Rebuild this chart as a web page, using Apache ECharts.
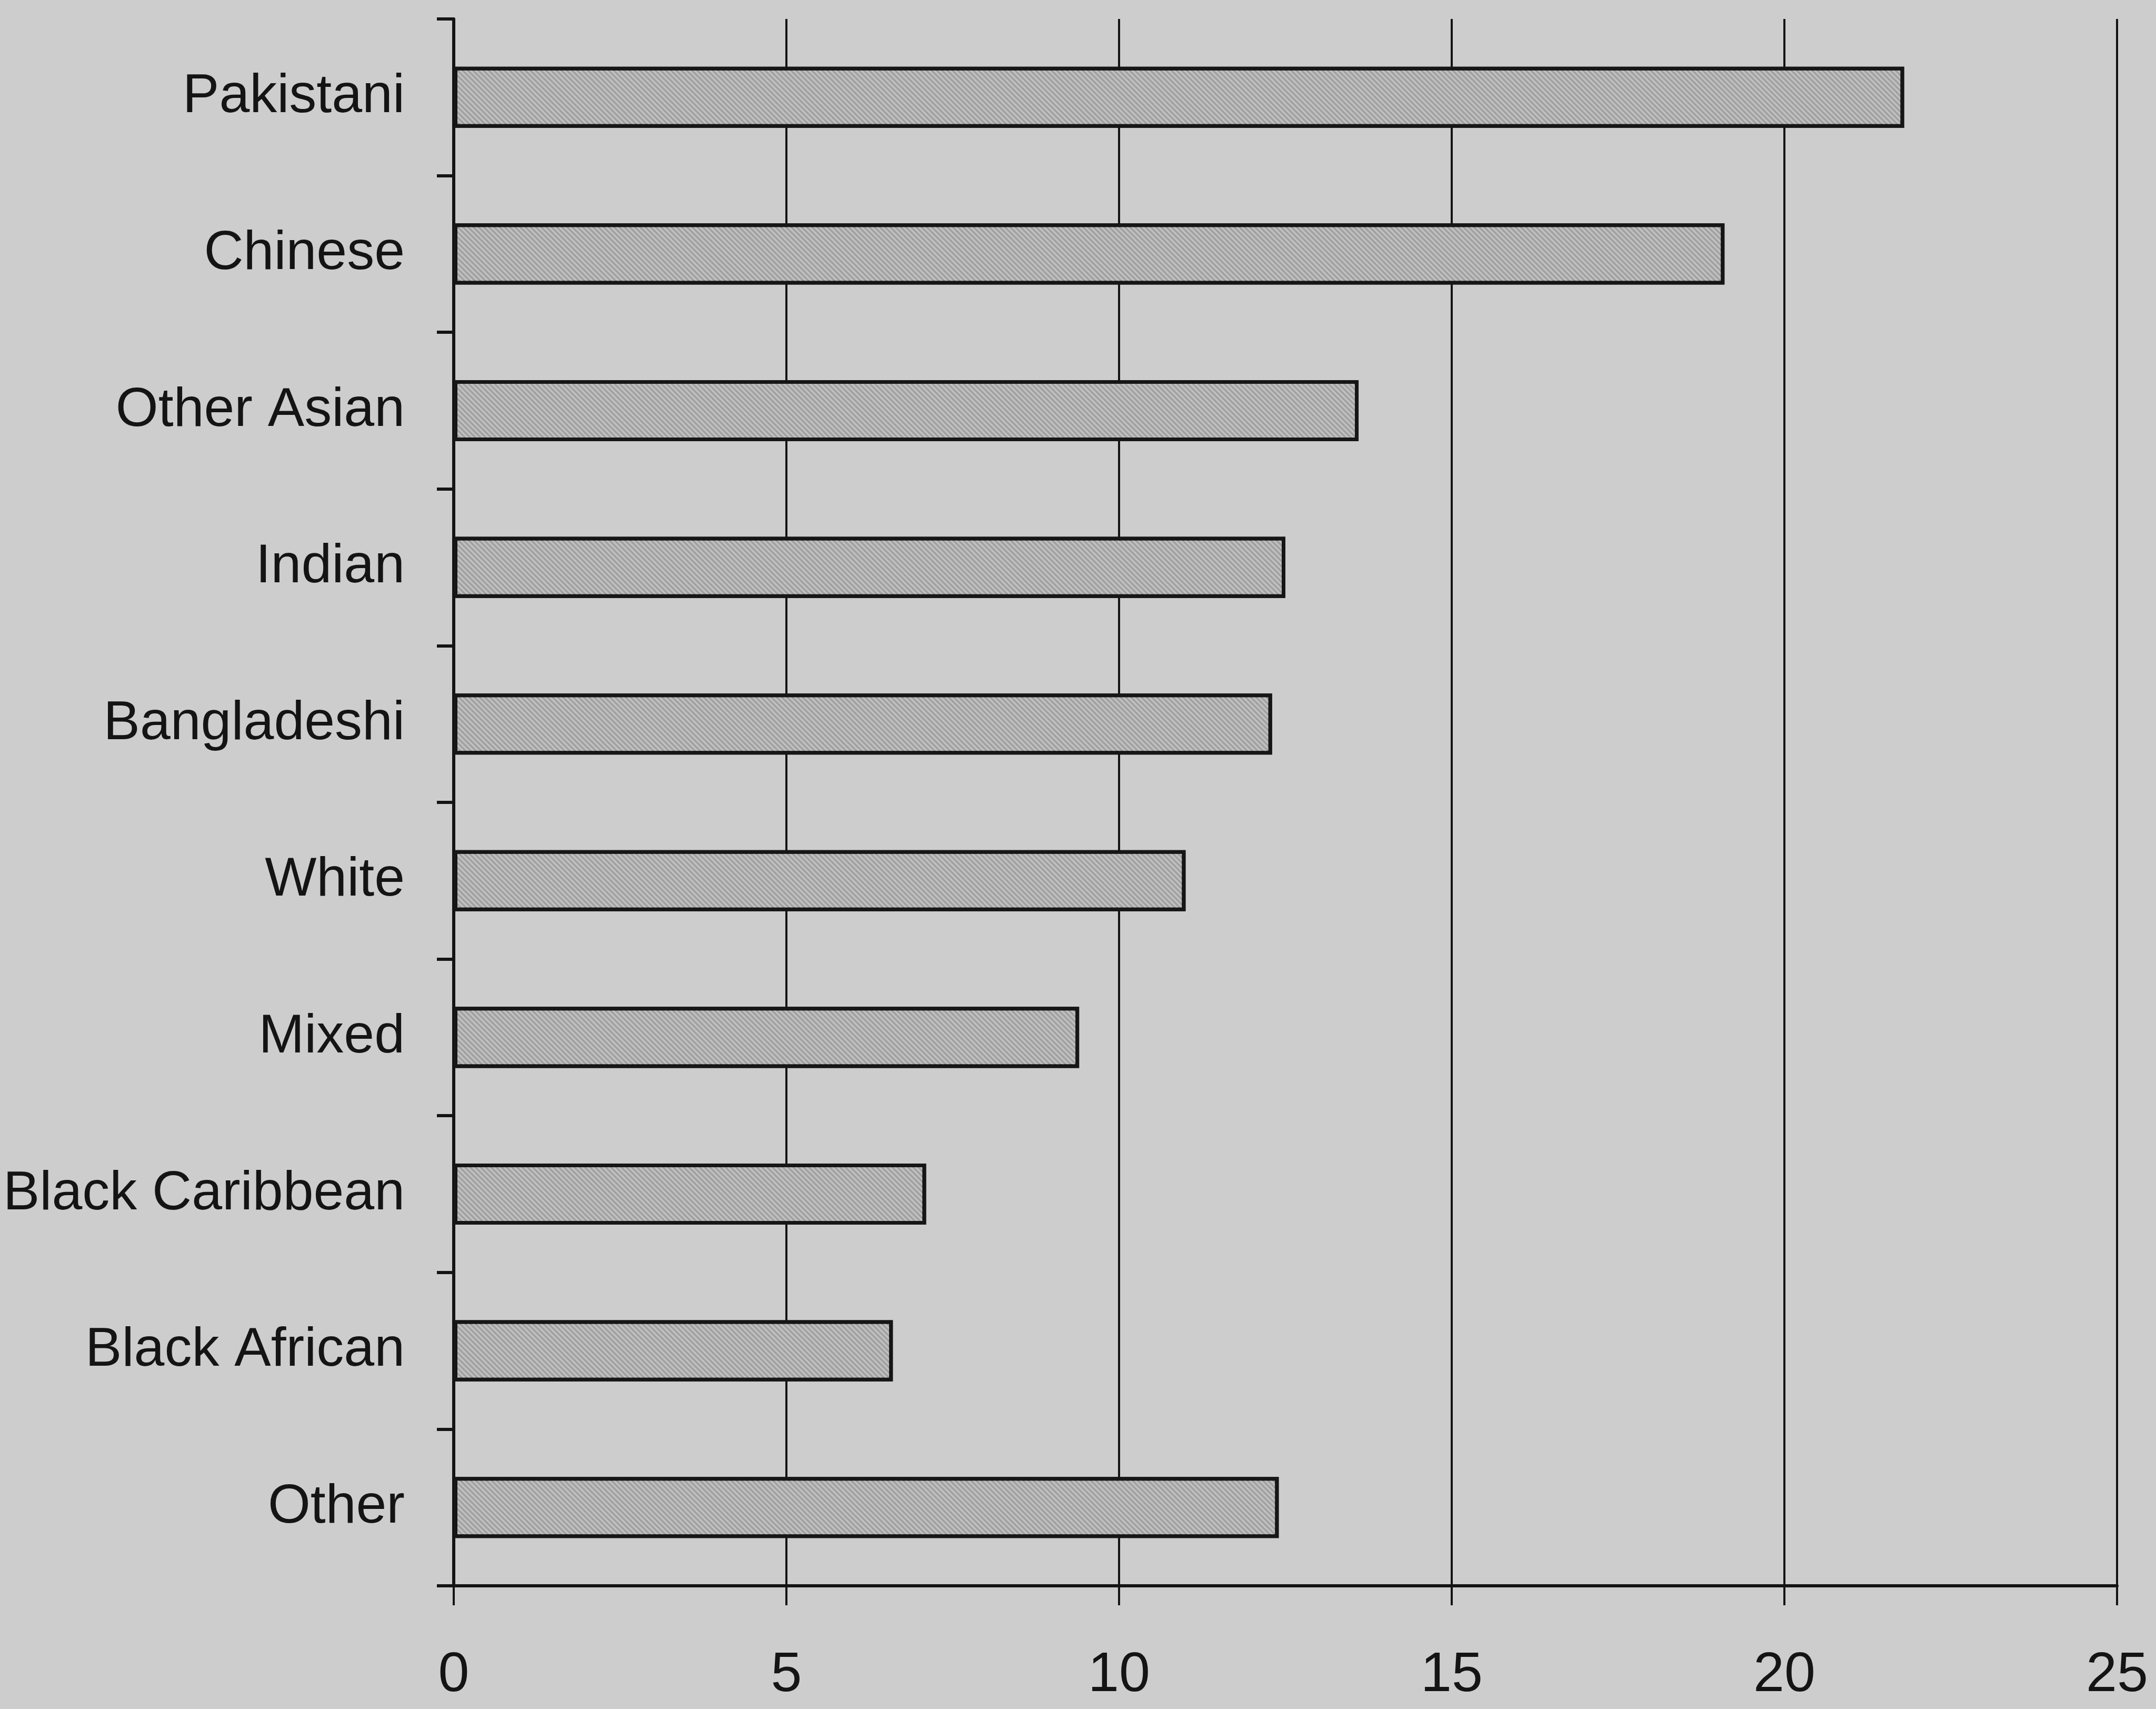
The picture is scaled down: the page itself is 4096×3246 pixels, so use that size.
<!DOCTYPE html>
<html>
<head>
<meta charset="utf-8">
<script src="https://cdn.jsdelivr.net/npm/echarts@6/dist/echarts.min.js"></script>
<style>
  html, body { margin: 0; padding: 0; background: #cdcdcd; }
  #chart { width: 4096px; height: 3246px; }
</style>
</head>
<body>
<div id="chart"></div>
<script>
// categories top to bottom
var groups = ['Pakistani', 'Chinese', 'Other Asian', 'Indian', 'Bangladeshi',
  'White', 'Mixed', 'Black Caribbean', 'Black African', 'Other'];
// values
var rates = [21.8, 19.1, 13.6, 12.5, 12.3, 11.0, 9.4, 7.1, 6.6, 12.4];
var xTicks = [0, 5, 10, 15, 20, 25];

var font = "'Liberation Sans', Arial, sans-serif";

var chart = echarts.init(document.getElementById('chart'));
chart.setOption({
  backgroundColor: '#cdcdcd',
  animation: false,
  aria: { enabled: false },
  grid: { left: 862, right: 74, top: 36, bottom: 234 },
  xAxis: {
    type: 'value',
    min: xTicks[0],
    max: xTicks[xTicks.length - 1],
    interval: 5,
    axisLine: { show: true, lineStyle: { color: '#141414', width: 6 } },
    axisTick: { show: true, length: 37, lineStyle: { color: '#141414', width: 4 } },
    axisLabel: { margin: 118, fontSize: 106, color: '#141414', fontFamily: font },
    splitLine: { show: true, lineStyle: { color: '#141414', width: 4 } }
  },
  yAxis: {
    type: 'category',
    data: groups,
    inverse: true,
    axisLine: { show: true, lineStyle: { color: '#141414', width: 6 } },
    axisTick: { show: true, length: 32, lineStyle: { color: '#141414', width: 6 } },
    axisLabel: { margin: 93, fontSize: 104, color: '#141414', fontFamily: font },
    splitLine: { show: false }
  },
  series: [{
    type: 'bar',
    data: rates,
    barWidth: '39%',
    itemStyle: {
      color: '#a2a2a2',
      borderColor: '#161616',
      borderWidth: 7,
      // fine diagonal hatching like the scanned fill
      decal: {
        symbol: 'rect',
        symbolSize: 1,
        dashArrayX: [1, 0],
        dashArrayY: [3, 4],
        rotation: Math.PI / 4,
        color: 'rgba(235,235,235,0.45)'
      }
    }
  }]
});
</script>
</body>
</html>
